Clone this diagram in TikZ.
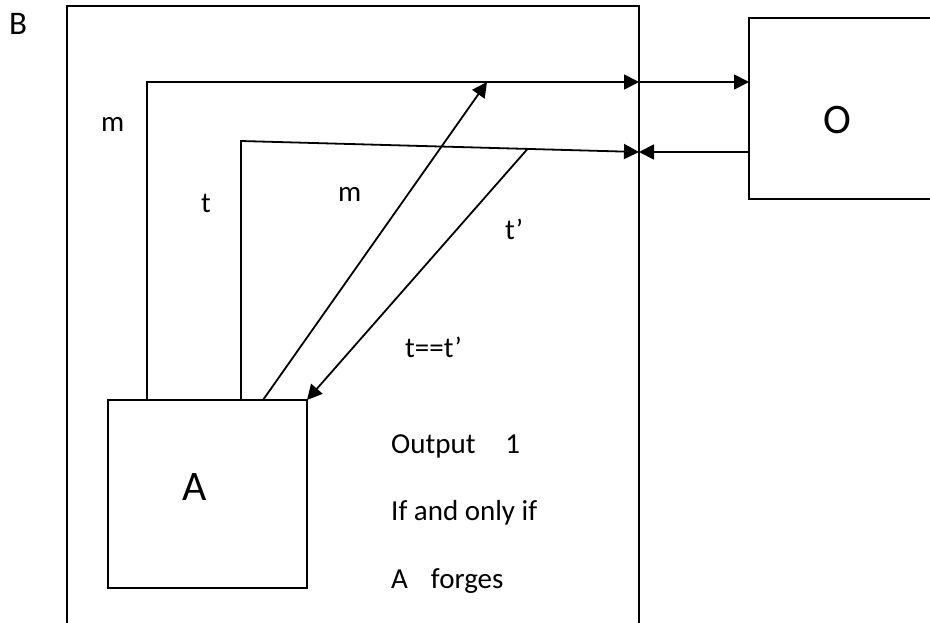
\documentclass[tikz,border=0pt]{standalone}
\usepackage{fontspec}
\setmainfont{Carlito}
\usetikzlibrary{arrows.meta,calc,positioning}

\begin{document}
\begin{tikzpicture}[
    x=1pt, y=-1pt,
    box/.style={draw=black, line width=2pt, inner sep=0pt, outer sep=0pt},
    lbl/.style={font=\fontsize{29}{35}\selectfont, inner sep=0pt, anchor=base west},
    big/.style={font=\fontsize{42}{50}\selectfont, inner sep=0pt},
    arrow/.style={-{Triangle[length=15pt,width=15pt]}, line width=1.8pt},
    wire/.style={line width=1.8pt}
  ]
  \useasboundingbox (0,0) rectangle (930,623);
  \clip (0,0) rectangle (930,623);

  % boxes
  \node[box, anchor=north west, minimum width=572pt, minimum height=660pt] (Bbox) at (67,6) {};
  \node[box, anchor=north west, minimum width=190pt, minimum height=181pt] (Obox) at (749,18) {};
  \node[box, anchor=north west, minimum width=199pt, minimum height=188pt] (Abox) at (108,400) {};

  \node[lbl, font=\fontsize{33}{40}\selectfont] (Blabel) at (9,35) {B};
  \node[big] (Olabel) at (837,120) {O};
  \node[big] (Alabel) at (195,487) {A};

  % rows and bends
  \coordinate (mrow) at (0,82);
  \coordinate (trow) at (0,152);
  \coordinate (tcorner) at (241,141);
  \coordinate (mtip) at (487,82);
  \coordinate (tstart) at ($(tcorner)!0.72!(Bbox.east |- trow)$);

  % connectors
  \draw[arrow] ([xshift=39pt]Abox.north west) |- (Bbox.east |- mrow);
  \draw[arrow] (Bbox.east |- mrow) -- (Obox.west |- mrow);
  \draw[arrow] ([xshift=133pt]Abox.north west) -- (tcorner) -- (Bbox.east |- trow);
  \draw[arrow] (Obox.west |- trow) -- (Bbox.east |- trow);
  \draw[arrow] ([xshift=155pt]Abox.north west) -- (mtip);
  \draw[arrow] (tstart) -- (Abox.north east);

  % labels
  \node[lbl] (m1) at (101,132) {m};
  \node[lbl] (t1) at (201,213) {t};
  \node[lbl] (m2) at (338,202) {m};
  \node[lbl] (t2) at (505,240) {t’};
  \node[lbl] (eq) at (405,357) {t==t’};
  \node[lbl] (out1) at (391,453) {Output\hspace{30pt}1};
  \node[lbl] (out2) at (391,520) {If and only if};
  \node[lbl] (out3) at (391,588) {A\hspace{23pt}forges};
\end{tikzpicture}
\end{document}
